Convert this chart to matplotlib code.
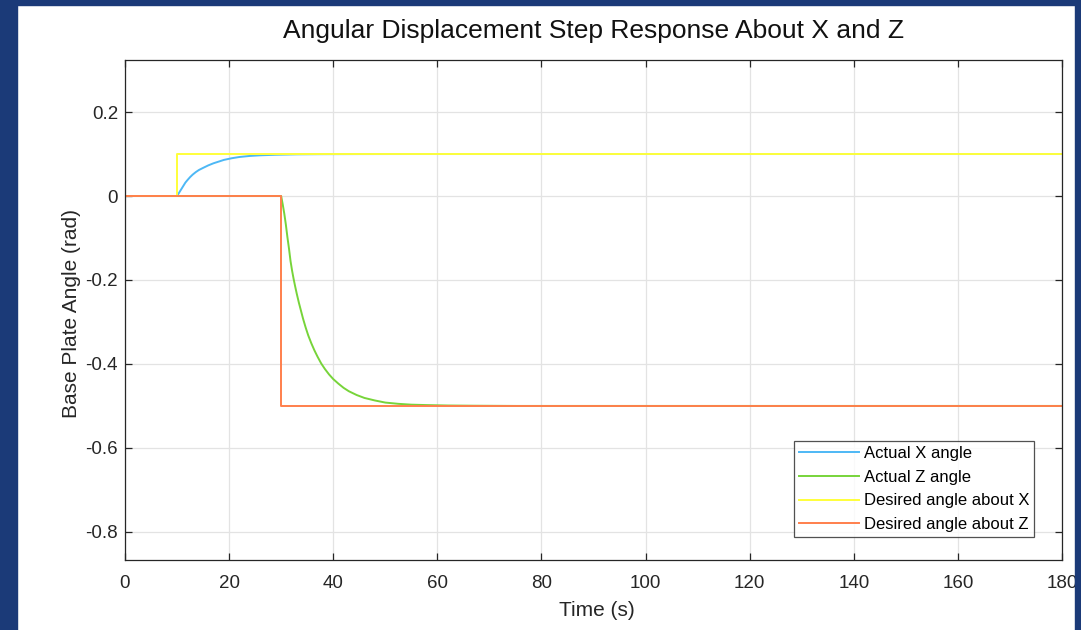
import matplotlib
matplotlib.use("Agg")
import matplotlib.pyplot as plt
from matplotlib.patches import Rectangle

plt.rcParams["font.family"] = ["Liberation Sans", "DejaVu Sans"]

# step commands (time s, angle rad)
t_des_x = [0, 10, 10, 180]
ang_des_x = [0, 0, 0.1, 0.1]
t_des_z = [0, 30, 30, 180]
ang_des_z = [0, 0, -0.5, -0.5]

t_act_x = [0, 10, 10.4, 10.8, 11.2, 11.6, 12.0, 12.5, 13.0, 13.6, 14.2, 15,
           16, 17, 18, 19, 20.5, 22, 24, 26, 29, 33, 38, 45, 55, 180]
ang_act_x = [0, 0, 0.008, 0.016, 0.024, 0.032, 0.038, 0.045, 0.051, 0.057,
             0.062, 0.067, 0.073, 0.078, 0.082, 0.086, 0.090, 0.093, 0.0955,
             0.097, 0.0983, 0.0993, 0.0997, 0.0999, 0.1, 0.1]
t_act_z = [0, 30, 30.3, 30.6, 30.9, 31.2, 31.5, 31.8, 32.1, 32.4, 32.7, 33.0,
           33.4, 33.8, 34.2, 34.7, 35.2, 35.8, 36.4, 37.0, 37.7, 38.4, 39.2,
           40, 41, 42, 43, 44.5, 46, 48, 50, 52.5, 55, 58, 62, 67, 75, 180]
ang_act_z = [0, 0, -0.020, -0.042, -0.068, -0.098, -0.125, -0.155, -0.178,
             -0.198, -0.216, -0.233, -0.254, -0.273, -0.292, -0.313, -0.332,
             -0.351, -0.368, -0.383, -0.399, -0.412, -0.425, -0.436, -0.447,
             -0.457, -0.465, -0.474, -0.481, -0.487, -0.492, -0.495, -0.497,
             -0.498, -0.499, -0.4995, -0.5, -0.5]

W, H = 1081, 630
fig = plt.figure(figsize=(W / 100, H / 100), dpi=100, facecolor="white")
ax = fig.add_axes([125 / W, 1 - 560 / H, (1062 - 125) / W, 500 / H])

ax.plot(t_act_x, ang_act_x, color="#4db8f5", lw=1.4, label="Actual X angle")
ax.plot(t_act_z, ang_act_z, color="#77d43a", lw=1.4, label="Actual Z angle")
ax.plot(t_des_x, ang_des_x, color="#ffff3a", lw=1.4, label="Desired angle about X")
ax.plot(t_des_z, ang_des_z, color="#ff7f4c", lw=1.4, label="Desired angle about Z")

ax.set_xlim(0, 180)
ax.set_ylim(-0.867, 0.324)
ax.set_xticks(range(0, 181, 20))
ax.set_yticks([-0.8, -0.6, -0.4, -0.2, 0, 0.2])
ax.set_yticklabels(["-0.8", "-0.6", "-0.4", "-0.2", "0", "0.2"])
ax.grid(True, color="#e3e3e3", lw=0.9)
ax.set_axisbelow(True)
ax.tick_params(direction="in", length=5, width=0.9, top=True, right=True,
               labelsize=13.5, colors="#262626")
ax.tick_params(axis="x", pad=11)
ax.tick_params(axis="y", pad=5)
for s in ax.spines.values():
    s.set_color("#262626")
    s.set_linewidth(0.9)

fig.text(593.5 / W, 1 - 38 / H, "Angular Displacement Step Response About X and Z",
         fontsize=19, color="#111111", ha="center", va="baseline")
ax.set_xlabel("Time (s)", fontsize=15, color="#262626")
ax.set_ylabel("Base Plate Angle (rad)", fontsize=15, color="#262626")
ax.xaxis.set_label_coords((597 - 125) / 937, (560 - 601) / 500)
ax.yaxis.set_label_coords((81 - 125) / 937, (560 - 314) / 500)

leg = ax.legend(loc="lower right", bbox_to_anchor=((1034 - 125) / 937, (560 - 537) / 500),
                fontsize=12, frameon=True, fancybox=False, edgecolor="#262626",
                handlelength=3.6, handletextpad=0.3, borderpad=0.3,
                labelspacing=0.52, borderaxespad=0)
leg.get_frame().set_linewidth(0.9)

# dark slide border around the white figure
blue = "#1b3a78"
for (x0, y0, w, h) in [(0, 0, 17, H), (1075, 0, W - 1075, H), (0, H - 5, W, 5)]:
    fig.patches.append(Rectangle((x0 / W, y0 / H), w / W, h / H,
                                 transform=fig.transFigure, color=blue,
                                 zorder=10))

fig.savefig("out.png", dpi=100)
